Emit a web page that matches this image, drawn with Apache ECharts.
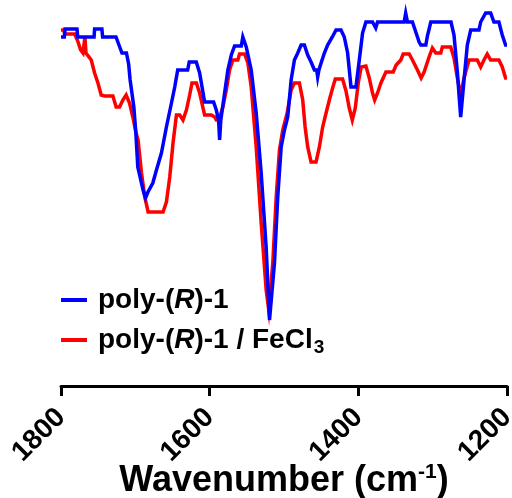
<!DOCTYPE html>
<html>
<head>
<meta charset="utf-8">
<script src="https://cdn.jsdelivr.net/npm/echarts@6/dist/echarts.min.js"></script>
<style>html,body{margin:0;padding:0;background:#fff}#c{width:512px;height:498px}</style>
</head>
<body>
<div id="c"></div>
<script>
// x: wavenumber (cm-1), y: transmittance (a.u.)
const seriesNames = ['poly-(R)-1', 'poly-(R)-1 / FeCl3'];
const xTicks = [1800, 1600, 1400, 1200];

const polyR1 = [
  [1800, 90.75], [1795.5, 90.75], [1794.6, 92.75], [1778.5, 92.75], [1777.5, 90.75],
  [1755.5, 90.75], [1754.8, 92.75], [1745, 92.75], [1744, 90.75], [1726, 90.75],
  [1722, 88.75], [1718, 86.75], [1712, 86.75], [1709, 84], [1707, 80], [1702, 73.25],
  [1699.3, 66.75], [1696.7, 58.25], [1689.6, 52.5], [1686.3, 50.5], [1683, 52],
  [1680.6, 52], [1676.5, 54.25], [1671.6, 57.5], [1664.9, 61.75], [1658.2, 68.25],
  [1651.4, 74.25], [1647, 78.25], [1643, 82.5], [1629.6, 82.5], [1627.5, 84.5],
  [1618, 84.5], [1613.5, 81.75], [1606.8, 74.5], [1594.7, 74.5], [1591.1, 72.5],
  [1588, 70], [1586.6, 65], [1585, 70], [1579.9, 76.75], [1575.5, 82.5], [1570.9, 86.25],
  [1566.5, 88.5], [1557.5, 88.5], [1555.4, 90.75], [1553, 90.75], [1550.8, 88.25],
  [1544.1, 82.5], [1537.4, 71.75], [1530.7, 56.75], [1524, 38.25], [1519.5, 20],
  [1512.8, 34.25], [1508.4, 50.75], [1503.8, 63.25], [1499.4, 67.5], [1495, 70.75],
  [1490.4, 80], [1486, 85], [1481.5, 86.75], [1477, 88.75], [1472.6, 88.75],
  [1468.1, 86.25], [1463.6, 84.5], [1459.1, 82.5], [1456, 82.5], [1454.7, 80.75],
  [1453, 82.5], [1450.1, 84.25], [1445.7, 86.75], [1441.3, 88.75], [1435, 90.75],
  [1430, 92.5], [1423.3, 92.5], [1418.9, 90.75], [1414.4, 86.75], [1411.2, 80.75],
  [1409.9, 78.25], [1403.2, 78.25], [1398.7, 85], [1394.3, 91.75], [1389.8, 94.5],
  [1380.9, 94.5], [1376.6, 93], [1374.2, 94.5], [1338.4, 94.5], [1336.3, 96.75],
  [1333.9, 94.5], [1327.2, 94.5], [1322.7, 92], [1318.2, 89.5], [1315.9, 88.75],
  [1309.2, 88.75], [1307.1, 91], [1302.5, 94.5], [1275.3, 94.5], [1271.3, 91.25],
  [1266.8, 82], [1262.3, 70.75], [1257.8, 80], [1253.4, 88.75], [1248.8, 92.5],
  [1237.7, 92.5], [1235.4, 94.5], [1228.7, 96.75], [1222, 96.75], [1217.6, 94.5],
  [1210.9, 94.5], [1206.4, 91.25], [1201.9, 88.75], [1200, 88.75]
];

const polyR1FeCl3 = [
  [1800, 92.5], [1796, 92.5], [1795, 91.5], [1781.6, 91.5], [1777.2, 89.6],
  [1773.6, 87.5], [1770.5, 86.75], [1767.8, 90.75], [1766.4, 86.75], [1763.8, 86.75],
  [1759.3, 85], [1754.8, 81.75], [1750.3, 79.25], [1745.9, 76.25], [1741.4, 76],
  [1730.2, 76], [1725.8, 73.25], [1721.2, 73.25], [1716.8, 75], [1712.4, 76.25],
  [1707.8, 74.25], [1703.4, 70.75], [1699, 66.75], [1696.3, 65], [1691.7, 56.75],
  [1687.3, 50.75], [1682.8, 47], [1662.7, 47], [1658.2, 49.5], [1653.7, 55.75],
  [1649.3, 64.25], [1644.7, 71.25], [1640.3, 71.25], [1635.9, 70], [1631.3, 72.5],
  [1626.9, 76.25], [1623.8, 79.25], [1617.9, 79.25], [1613.5, 76.75], [1606.8, 71.25],
  [1597.8, 71.25], [1593.3, 70.75], [1591.1, 70], [1587.6, 70], [1582.2, 73.25],
  [1577.6, 77.5], [1573.2, 82.5], [1568.8, 85], [1562.1, 85], [1559.8, 86.5],
  [1553.1, 86.5], [1548.6, 84.25], [1544.1, 78.25], [1537.4, 63.25], [1530.7, 44.25],
  [1524, 27.5], [1520.5, 22.5], [1515.1, 34.25], [1510.5, 50.75], [1506.1, 62.5],
  [1501.7, 67.5], [1495.4, 72], [1490.4, 77.5], [1486, 79.25], [1479.3, 79.25],
  [1474.8, 75], [1471.6, 68.25], [1468.1, 63.25], [1463.6, 59.5], [1456.9, 59.5],
  [1452.4, 63.25], [1448, 68.25], [1443.4, 71.75], [1439, 75], [1434.6, 78],
  [1431, 80.25], [1421.2, 80.25], [1416.6, 77.25], [1412.2, 73], [1408.1, 70],
  [1404.1, 73], [1400.1, 79.25], [1396.1, 83.25], [1389.8, 83.5], [1385.3, 80.5],
  [1380.9, 76.75], [1378, 75], [1374.2, 76.75], [1369.6, 79.25], [1362.9, 82],
  [1353.1, 82], [1349.1, 83.75], [1342.8, 85], [1339.7, 86.5], [1331.6, 86.5],
  [1327.2, 85], [1320.5, 82.5], [1315.5, 80.5], [1311.5, 82], [1304.8, 85.75],
  [1300.4, 88], [1295.8, 86.75], [1289.1, 86.75], [1287, 88.25], [1275.7, 88.25],
  [1271.3, 85.5], [1266.8, 80.5], [1262.3, 76.25], [1257.8, 80.5], [1251.1, 85],
  [1240, 85], [1235.4, 83.25], [1231, 85], [1226.6, 86.5], [1222, 85], [1210.9, 85],
  [1206.4, 83.25], [1201.9, 80.5], [1200, 80.5]
];

const chart = echarts.init(document.getElementById('c'));
const FF = 'Arial, "Liberation Sans", Helvetica, sans-serif';
chart.setOption({
  animation: false,
  backgroundColor: '#fff',
  grid: { left: 61, right: 5, top: 0, bottom: 112, containLabel: false, outerBoundsMode: 'none' },
  legend: {
    orient: 'vertical', left: 56, top: 281, itemGap: 12,
    itemWidth: 26, itemHeight: 4, icon: 'rect',
    data: seriesNames,
    formatter: function (name) {
      if (name === seriesNames[0]) return '{b|poly-(}{i|R}{b|)-1}';
      return '{b|poly-(}{i|R}{b|)-1 / FeCl}{sub|3}';
    },
    textStyle: {
      fontFamily: FF, fontWeight: 'bold', fontSize: 28, color: '#000', padding: [0, 0, 0, 6],
      rich: {
        b: { fontFamily: FF, fontWeight: 'bold', fontSize: 28, color: '#000', lineHeight: 32 },
        i: { fontFamily: FF, fontWeight: 'bold', fontStyle: 'italic', fontSize: 28, color: '#000', lineHeight: 32 },
        sub: { fontFamily: FF, fontWeight: 'bold', fontSize: 19, color: '#000', lineHeight: 34, verticalAlign: 'bottom', padding: [0, 0, 0, 1] }
      }
    }
  },
  xAxis: {
    type: 'value', inverse: true, min: 1200, max: 1800, interval: 200,
    axisLine: { show: true, lineStyle: { color: '#000', width: 3 } },
    axisTick: { show: true, length: 10, lineStyle: { color: '#000', width: 3 } },
    splitLine: { show: false },
    axisLabel: {
      rotate: 45, margin: 27, fontFamily: FF, fontWeight: 'bold', fontSize: 28, color: '#000',
      formatter: function (v) { return xTicks.indexOf(v) >= 0 ? String(v) : ''; }
    },
    name: '{t|Wavenumber (cm}{sup|-1}{t|)}',
    nameLocation: 'middle', nameGap: 76, nameMoveOverlap: false,
    nameTextStyle: {
      rich: {
        t: { fontFamily: FF, fontWeight: 'bold', fontSize: 36, color: '#000', lineHeight: 38 },
        sup: { fontFamily: FF, fontWeight: 'bold', fontSize: 21, color: '#000', lineHeight: 38, verticalAlign: 'top' }
      }
    }
  },
  yAxis: { type: 'value', min: 3.5, max: 100, show: false },
  series: [
    { name: seriesNames[0], type: 'line', data: polyR1, showSymbol: false, z: 3,
      lineStyle: { color: '#0000ff', width: 3.5, join: 'miter' }, itemStyle: { color: '#0000ff' } },
    { name: seriesNames[1], type: 'line', data: polyR1FeCl3, showSymbol: false, z: 2,
      lineStyle: { color: '#ff0000', width: 3.5, join: 'miter' }, itemStyle: { color: '#ff0000' } }
  ]
});
</script>
</body>
</html>
